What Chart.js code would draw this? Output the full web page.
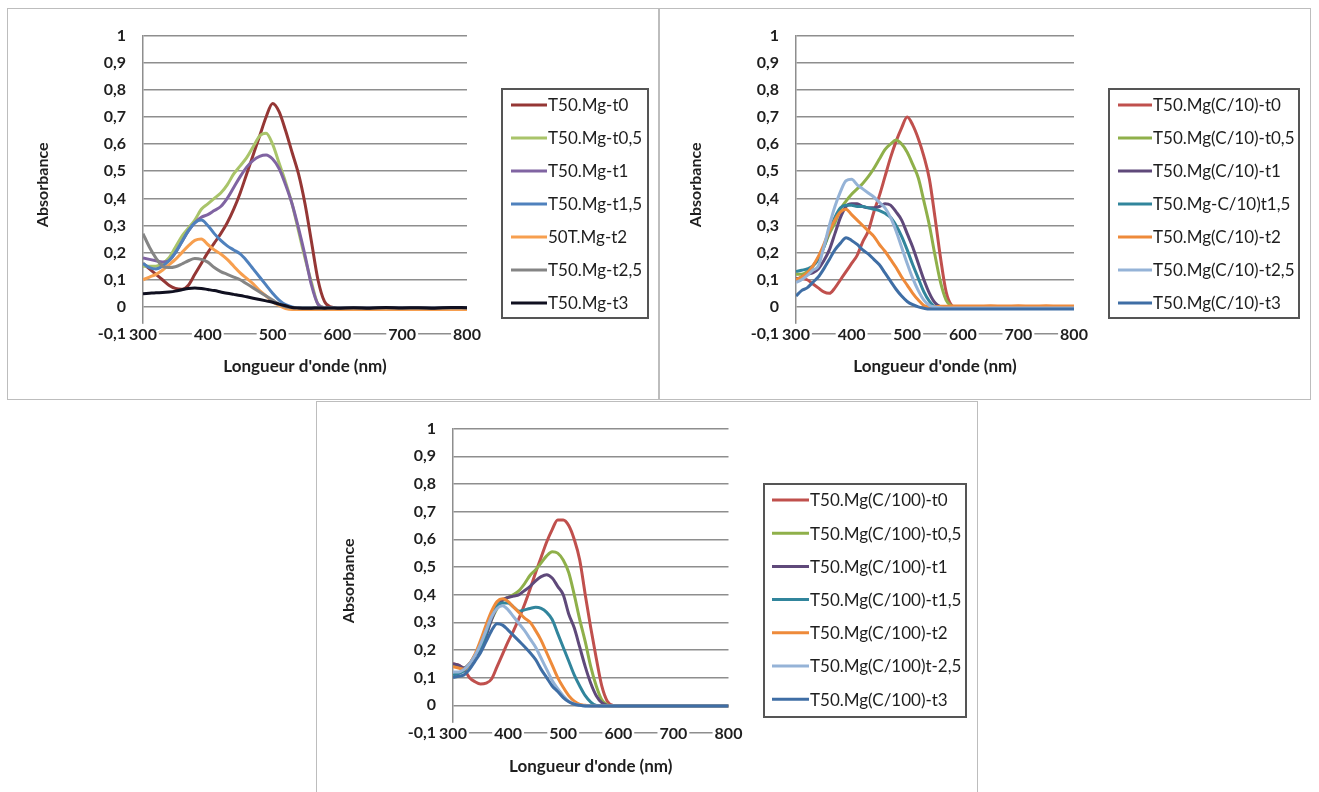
<!DOCTYPE html>
<html>
<head>
<meta charset="utf-8">
<script src="https://cdn.jsdelivr.net/npm/chart.js@4.4.1/dist/chart.umd.min.js"></script>
<style>
  body { margin: 0; background: #fff; width: 1319px; height: 792px; overflow: hidden; position: relative; }
  .box { position: absolute; border: 1px solid #bdbdbd; background: #fff; }
  .box canvas { display: block; }
</style>
</head>
<body>
<div class="box" style="left:7px;top:8px;width:650px;height:390px;"><canvas id="tl" width="650" height="390"></canvas></div>
<div class="box" style="left:659px;top:8px;width:650px;height:390px;"><canvas id="tr" width="650" height="390"></canvas></div>
<div class="box" style="left:316px;top:401px;width:660px;height:400px;"><canvas id="bt" width="660" height="400"></canvas></div>
<script>
// wavelengths (nm) shared by every spectrum
const wavelengths = [300, 310, 320, 330, 340, 350, 360, 370, 380, 390,
  400, 410, 420, 430, 440, 450, 460, 470, 480, 490,
  500, 510, 520, 530, 540, 550, 560, 570, 580, 590,
  600, 625, 650, 675, 700, 725, 750, 775, 800];

// ---- T50.Mg ----
const tlLabels = ["T50.Mg-t0", "T50.Mg-t0,5", "T50.Mg-t1", "T50.Mg-t1,5", "50T.Mg-t2", "T50.Mg-t2,5", "T50.Mg-t3"];
const tl_t0 = [0.16, 0.14, 0.12, 0.10, 0.08, 0.068, 0.065, 0.08, 0.12, 0.16,
  0.20, 0.235, 0.27, 0.31, 0.36, 0.42, 0.49, 0.56, 0.63, 0.70,
  0.75, 0.72, 0.65, 0.57, 0.49, 0.38, 0.24, 0.10, 0.02, 0.0,
  -0.003, -0.004, -0.003, -0.004, -0.003, -0.002, -0.003, -0.004, -0.003];
const tl_t05 = [0.15, 0.15, 0.15, 0.16, 0.18, 0.22, 0.26, 0.29, 0.32, 0.36,
  0.38, 0.40, 0.42, 0.45, 0.49, 0.52, 0.55, 0.59, 0.63, 0.64,
  0.60, 0.53, 0.46, 0.38, 0.28, 0.18, 0.09, 0.01, -0.003, -0.004,
  -0.004, -0.004, -0.005, -0.004, -0.004, -0.005, -0.004, -0.004, -0.004];
const tl_t1 = [0.18, 0.175, 0.17, 0.165, 0.17, 0.20, 0.24, 0.28, 0.31, 0.33,
  0.34, 0.355, 0.37, 0.40, 0.44, 0.48, 0.515, 0.54, 0.555, 0.56,
  0.545, 0.51, 0.45, 0.38, 0.29, 0.19, 0.08, 0.01, -0.003, -0.004,
  -0.004, -0.004, -0.004, -0.004, -0.004, -0.004, -0.004, -0.004, -0.004];
const tl_t15 = [0.16, 0.145, 0.14, 0.15, 0.17, 0.20, 0.24, 0.28, 0.31, 0.32,
  0.30, 0.27, 0.245, 0.225, 0.21, 0.195, 0.17, 0.14, 0.11, 0.08,
  0.05, 0.025, 0.008, 0.0, -0.003, -0.004, -0.004, -0.004, -0.004, -0.004,
  -0.004, -0.004, -0.004, -0.004, -0.004, -0.004, -0.004, -0.004, -0.004];
const tl_t2 = [0.10, 0.11, 0.12, 0.135, 0.155, 0.175, 0.20, 0.225, 0.245, 0.25,
  0.23, 0.21, 0.195, 0.175, 0.15, 0.125, 0.105, 0.085, 0.06, 0.04,
  0.02, 0.005, -0.006, -0.01, -0.01, -0.01, -0.01, -0.01, -0.01, -0.01,
  -0.01, -0.01, -0.01, -0.01, -0.01, -0.01, -0.01, -0.01, -0.01];
const tl_t25 = [0.27, 0.22, 0.18, 0.15, 0.145, 0.148, 0.158, 0.17, 0.178, 0.175,
  0.165, 0.145, 0.13, 0.12, 0.11, 0.10, 0.085, 0.07, 0.055, 0.04,
  0.025, 0.01, 0.0, -0.003, -0.004, -0.004, -0.004, -0.004, -0.004, -0.004,
  -0.004, -0.004, -0.004, -0.004, -0.004, -0.004, -0.004, -0.004, -0.004];
const tl_t3 = [0.048, 0.05, 0.052, 0.053, 0.055, 0.058, 0.063, 0.068, 0.07, 0.068,
  0.064, 0.06, 0.055, 0.05, 0.046, 0.042, 0.037, 0.032, 0.027, 0.022,
  0.017, 0.01, 0.004, -0.002, -0.004, -0.005, -0.005, -0.004, -0.005, -0.004,
  -0.005, -0.003, -0.005, -0.002, -0.004, -0.003, -0.005, -0.002, -0.003];

// ---- T50.Mg(C/10) ----
const trLabels = ["T50.Mg(C/10)-t0", "T50.Mg(C/10)-t0,5", "T50.Mg(C/10)-t1", "T50.Mg-C/10)t1,5", "T50.Mg(C/10)-t2", "T50.Mg(C/10)-t2,5", "T50.Mg(C/10)-t3"];
const tr_t0 = [0.105, 0.105, 0.10, 0.085, 0.07, 0.055, 0.05, 0.07, 0.10, 0.13,
  0.16, 0.19, 0.24, 0.28, 0.35, 0.41, 0.48, 0.55, 0.61, 0.66,
  0.70, 0.67, 0.62, 0.555, 0.47, 0.33, 0.18, 0.055, 0.005, -0.003,
  -0.005, -0.005, -0.005, -0.005, -0.005, -0.005, -0.005, -0.005, -0.005];
const tr_t05 = [0.12, 0.12, 0.13, 0.15, 0.18, 0.22, 0.27, 0.31, 0.36, 0.39,
  0.415, 0.435, 0.455, 0.48, 0.51, 0.545, 0.58, 0.60, 0.615, 0.60,
  0.57, 0.525, 0.475, 0.39, 0.30, 0.19, 0.09, 0.025, 0.002, -0.003,
  -0.004, -0.004, -0.004, -0.004, -0.004, -0.004, -0.004, -0.004, -0.004];
const tr_t1 = [0.10, 0.11, 0.12, 0.125, 0.14, 0.17, 0.21, 0.27, 0.33, 0.37,
  0.38, 0.38, 0.37, 0.365, 0.365, 0.37, 0.38, 0.375, 0.35, 0.32,
  0.27, 0.22, 0.16, 0.10, 0.05, 0.015, 0.0, -0.004, -0.005, -0.005,
  -0.005, -0.005, -0.005, -0.005, -0.005, -0.005, -0.005, -0.005, -0.005];
const tr_t15 = [0.13, 0.135, 0.14, 0.15, 0.175, 0.22, 0.28, 0.33, 0.365, 0.375,
  0.375, 0.37, 0.37, 0.365, 0.36, 0.355, 0.345, 0.33, 0.30, 0.26,
  0.21, 0.155, 0.105, 0.055, 0.02, 0.0, -0.004, -0.005, -0.005, -0.005,
  -0.005, -0.005, -0.005, -0.005, -0.005, -0.005, -0.005, -0.005, -0.005];
const tr_t2 = [0.10, 0.11, 0.125, 0.15, 0.185, 0.23, 0.28, 0.32, 0.35, 0.36,
  0.34, 0.32, 0.30, 0.28, 0.26, 0.23, 0.205, 0.175, 0.145, 0.11,
  0.08, 0.05, 0.025, 0.005, 0.0, 0.0, 0.002, 0.002, 0.003, 0.003,
  0.003, 0.003, 0.004, 0.003, 0.004, 0.003, 0.004, 0.003, 0.003];
const tr_t25 = [0.09, 0.10, 0.115, 0.135, 0.15, 0.22, 0.30, 0.37, 0.425, 0.465,
  0.47, 0.45, 0.435, 0.42, 0.405, 0.385, 0.365, 0.33, 0.28, 0.22,
  0.16, 0.105, 0.06, 0.025, 0.005, 0.0, -0.003, -0.004, -0.004, -0.004,
  -0.004, -0.004, -0.004, -0.004, -0.004, -0.004, -0.004, -0.004, -0.004];
const tr_t3 = [0.04, 0.06, 0.07, 0.09, 0.11, 0.14, 0.175, 0.21, 0.235, 0.255,
  0.245, 0.23, 0.21, 0.195, 0.175, 0.155, 0.125, 0.095, 0.065, 0.04,
  0.02, 0.008, 0.0, -0.005, -0.008, -0.008, -0.008, -0.008, -0.008, -0.008,
  -0.008, -0.008, -0.008, -0.008, -0.008, -0.008, -0.008, -0.008, -0.008];

// ---- T50.Mg(C/100) ----
const btLabels = ["T50.Mg(C/100)-t0", "T50.Mg(C/100)-t0,5", "T50.Mg(C/100)-t1", "T50.Mg(C/100)-t1,5", "T50.Mg(C/100)-t2", "T50.Mg(C/100)t-2,5", "T50.Mg(C/100)-t3"];
const bt_t0 = [0.15, 0.145, 0.13, 0.10, 0.085, 0.077, 0.08, 0.095, 0.14, 0.185,
  0.23, 0.27, 0.315, 0.365, 0.42, 0.48, 0.535, 0.59, 0.635, 0.67,
  0.67, 0.65, 0.60, 0.525, 0.40, 0.28, 0.17, 0.07, 0.015, 0.0,
  -0.002, -0.002, -0.002, -0.002, -0.002, -0.002, -0.002, -0.002, -0.002];
const bt_t05 = [0.14, 0.14, 0.135, 0.15, 0.18, 0.21, 0.26, 0.31, 0.35, 0.38,
  0.39, 0.40, 0.415, 0.44, 0.47, 0.49, 0.515, 0.54, 0.555, 0.55,
  0.525, 0.48, 0.40, 0.31, 0.23, 0.14, 0.07, 0.02, 0.002, -0.002,
  -0.002, -0.002, -0.002, -0.002, -0.002, -0.002, -0.002, -0.002, -0.002];
const bt_t1 = [0.15, 0.145, 0.135, 0.15, 0.18, 0.20, 0.25, 0.31, 0.355, 0.38,
  0.39, 0.395, 0.40, 0.415, 0.43, 0.45, 0.465, 0.472, 0.46, 0.43,
  0.40, 0.33, 0.28, 0.21, 0.14, 0.08, 0.035, 0.01, 0.0, -0.002,
  -0.002, -0.002, -0.002, -0.002, -0.002, -0.002, -0.002, -0.002, -0.002];
const bt_t15 = [0.11, 0.115, 0.125, 0.145, 0.18, 0.21, 0.26, 0.32, 0.36, 0.37,
  0.37, 0.355, 0.34, 0.345, 0.35, 0.354, 0.35, 0.336, 0.31, 0.26,
  0.21, 0.16, 0.11, 0.07, 0.035, 0.012, 0.0, -0.002, -0.002, -0.002,
  -0.002, -0.002, -0.002, -0.002, -0.002, -0.002, -0.002, -0.002, -0.002];
const bt_t2 = [0.14, 0.135, 0.13, 0.15, 0.185, 0.235, 0.29, 0.34, 0.375, 0.385,
  0.375, 0.355, 0.335, 0.315, 0.30, 0.27, 0.235, 0.19, 0.145, 0.10,
  0.065, 0.035, 0.015, 0.003, 0.0, -0.002, -0.002, -0.002, -0.002, -0.002,
  -0.002, -0.002, -0.002, -0.002, -0.002, -0.002, -0.002, -0.002, -0.002];
const bt_t25 = [0.12, 0.12, 0.13, 0.15, 0.18, 0.22, 0.27, 0.32, 0.35, 0.36,
  0.345, 0.32, 0.295, 0.27, 0.24, 0.21, 0.17, 0.13, 0.09, 0.06,
  0.035, 0.015, 0.005, 0.0, -0.002, -0.002, -0.002, -0.002, -0.002, -0.002,
  -0.002, -0.002, -0.002, -0.002, -0.002, -0.002, -0.002, -0.002, -0.002];
const bt_t3 = [0.10, 0.105, 0.11, 0.13, 0.16, 0.19, 0.23, 0.27, 0.295, 0.29,
  0.272, 0.252, 0.232, 0.212, 0.19, 0.165, 0.13, 0.10, 0.07, 0.05,
  0.028, 0.013, 0.004, 0.0, -0.002, -0.002, -0.002, -0.002, -0.002, -0.002,
  -0.002, -0.002, -0.002, -0.002, -0.002, -0.002, -0.002, -0.002, -0.002];

const tlColors = ["#953735", "#a9c46a", "#8064a2", "#4f81bd", "#f79f4f", "#858585", "#101020"];
const trColors = ["#c0504d", "#8fb04a", "#5f497a", "#31859c", "#ee8a3a", "#95b3d7", "#3f6ea5"];
const btColors = ["#c0504d", "#8fb04a", "#5f497a", "#31859c", "#ee8a3a", "#95b3d7", "#3f6ea5"];

const FONT = "Lato, 'Open Sans', sans-serif";
const TEXT = "#1e1e1e";
const GRID = "#8e8e8e";

// legend in a framed box, like the Excel one
const boxLegend = {
  id: "boxLegend",
  afterDraw(chart, args, o) {
    const ctx = chart.ctx;
    ctx.save();
    ctx.strokeStyle = "#555";
    ctx.lineWidth = 2;
    ctx.strokeRect(o.x, o.y, o.w, o.h);
    ctx.font = "17px " + FONT;
    ctx.textBaseline = "middle";
    ctx.fillStyle = TEXT;
    chart.data.datasets.forEach((ds, i) => {
      const cy = o.y + o.first + i * o.step;
      ctx.strokeStyle = ds.borderColor;
      ctx.lineWidth = 3;
      ctx.beginPath();
      ctx.moveTo(o.x + o.sx, cy);
      ctx.lineTo(o.x + o.sx + o.sl, cy);
      ctx.stroke();
      ctx.fillText(ds.label, o.x + o.tx, cy + 1);
    });
    ctx.restore();
  }
};

function fmt(v) {
  return String(Math.round(v * 10) / 10).replace(".", ",");
}

function makeChart(id, labels, series, colors, L) {
  const datasets = series.map((vals, i) => ({
    label: labels[i],
    data: wavelengths.map((w, k) => ({ x: w, y: vals[k] })),
    borderColor: colors[i],
    backgroundColor: colors[i],
    borderWidth: 3,
    pointRadius: 0,
    cubicInterpolationMode: "monotone",
    borderJoinStyle: "round",
    order: -i
  }));

  return new Chart(document.getElementById(id), {
    type: "line",
    data: { datasets },
    plugins: [boxLegend],
    options: {
      responsive: false,
      animation: false,
      devicePixelRatio: 1,
      layout: { padding: L.pad },
      plugins: {
        legend: { display: false },
        tooltip: { enabled: false },
        boxLegend: L.legend
      },
      scales: {
        x: {
          type: "linear",
          min: 300,
          max: 800,
          afterFit: s => { s.height = 50; },
          grid: { display: false, drawTicks: false },
          border: { display: false },
          ticks: {
            stepSize: 100,
            maxRotation: 0,
            // mirrored so the labels sit on the -0,1 line without being clipped
            mirror: true,
            padding: -10,
            z: 1,
            showLabelBackdrop: true,
            backdropColor: "#fff",
            backdropPadding: { x: 2, y: 1 },
            color: TEXT,
            font: { family: FONT, size: 16, weight: "bold" }
          },
          title: {
            display: true,
            text: "Longueur d'onde (nm)",
            color: TEXT,
            font: { family: FONT, size: 17, weight: "bold" },
            padding: { top: 0, bottom: L.xTitlePad }
          }
        },
        y: {
          min: -0.1,
          max: 1,
          afterFit: s => { s.width = L.yWidth; },
          grid: { color: GRID, lineWidth: 1.5, drawTicks: false },
          border: { display: true, color: GRID, width: 1.5 },
          ticks: {
            stepSize: 0.1,
            padding: 17,
            color: TEXT,
            font: { family: FONT, size: 16, weight: "bold" },
            callback: fmt
          },
          title: {
            display: true,
            text: "Absorbance",
            color: TEXT,
            font: { family: FONT, size: 16, weight: "bold" },
            padding: { top: 0, bottom: 0 }
          }
        }
      }
    }
  });
}

makeChart("tl", tlLabels, [tl_t0, tl_t05, tl_t1, tl_t15, tl_t2, tl_t25, tl_t3], tlColors, {
  pad: { left: 25, right: 191, top: 19, bottom: 15 },
  yWidth: 110,
  xTitlePad: 7,
  legend: { x: 494, y: 80, w: 146, h: 229, first: 16, step: 33, sx: 9, sl: 36, tx: 46 }
});

makeChart("tr", trLabels, [tr_t0, tr_t05, tr_t1, tr_t15, tr_t2, tr_t25, tr_t3], trColors, {
  pad: { left: 26, right: 236, top: 19, bottom: 15 },
  yWidth: 110,
  xTitlePad: 7,
  legend: { x: 449, y: 80, w: 190, h: 229, first: 16, step: 33, sx: 9, sl: 34, tx: 44 }
});

makeChart("bt", btLabels, [bt_t0, bt_t05, bt_t1, bt_t15, bt_t2, bt_t25, bt_t3], btColors, {
  pad: { left: 22, right: 248.5, top: 20.7, bottom: 19 },
  yWidth: 114,
  xTitlePad: 6,
  legend: { x: 447, y: 82, w: 202, h: 233, first: 16, step: 33.2, sx: 8, sl: 37, tx: 46 }
});
</script>
</body>
</html>
